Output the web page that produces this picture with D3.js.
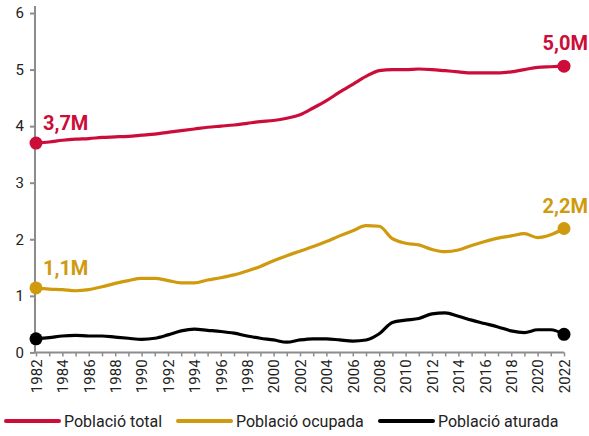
<!DOCTYPE html>
<html>
<head>
<meta charset="utf-8">
<script src="https://cdn.jsdelivr.net/npm/d3@7"></script>
<style>
  body { margin: 0; background: #fff; }
  svg { font-family: Roboto, "Noto Sans", sans-serif; }
</style>
</head>
<body>
<svg id="chart" width="589" height="436"></svg>
<script>
var years = d3.range(1982, 2023);

var total = [3.70, 3.72, 3.75, 3.77, 3.78, 3.80, 3.81, 3.82, 3.84, 3.86, 3.89, 3.92, 3.95, 3.98, 4.00, 4.02, 4.05, 4.08, 4.10, 4.14,
  4.20, 4.32, 4.45, 4.60, 4.74, 4.88, 4.98, 5.00, 5.00, 5.01, 5.00, 4.98, 4.96, 4.94, 4.94, 4.94, 4.96, 5.00, 5.04, 5.05, 5.06];

var employed = [1.14, 1.12, 1.11, 1.09, 1.11, 1.16, 1.22, 1.27, 1.31, 1.31, 1.27, 1.23, 1.23, 1.28, 1.32, 1.37, 1.44, 1.52, 1.62, 1.71,
  1.79, 1.87, 1.96, 2.06, 2.15, 2.24, 2.23, 2.01, 1.93, 1.90, 1.82, 1.78, 1.81, 1.89, 1.96, 2.02, 2.06, 2.10, 2.03, 2.08, 2.19];

var unemployed = [0.24, 0.26, 0.29, 0.30, 0.29, 0.29, 0.27, 0.25, 0.23, 0.25, 0.31, 0.38, 0.41, 0.39, 0.37, 0.34, 0.29, 0.25, 0.22, 0.18,
  0.22, 0.24, 0.24, 0.22, 0.20, 0.22, 0.33, 0.53, 0.57, 0.60, 0.68, 0.70, 0.64, 0.57, 0.51, 0.45, 0.38, 0.35, 0.40, 0.40, 0.32];

var seriesNames = ['Població total', 'Població ocupada', 'Població aturada'];
var endLabels = [['3,7M', '5,0M'], ['1,1M', '2,2M'], [null, null]];
var yTicks = [0, 1, 2, 3, 4, 5, 6];

var colors = ['#cc0d3a', '#d09a0e', '#000000'];
var allSeries = [total, employed, unemployed];

var svg = d3.select('#chart');

var x = d3.scaleLinear().domain([1982, 2022]).range([36, 564]),
    y = d3.scaleLinear().domain([0, 6]).range([352.4, 13]);

// y axis
var yAxis = svg.append('g')
  .attr('transform', 'translate(35,0)')
  .call(d3.axisLeft(y).tickValues(yTicks).tickSize(5).tickPadding(6).tickFormat(d3.format('d')));
yAxis.select('.domain').attr('stroke', '#8c8c8c').attr('stroke-width', 2).attr('d', 'M0,6V352.4');
yAxis.selectAll('.tick line').attr('stroke', '#8c8c8c').attr('stroke-width', 2);
yAxis.selectAll('.tick text').attr('font-size', 15).attr('fill', '#222').style('font-family', 'Roboto');

// x axis
var xAxis = svg.append('g')
  .attr('transform', 'translate(0,352.4)')
  .call(d3.axisBottom(x).tickValues(years).tickSize(4).tickSizeOuter(0).tickFormat(function(d) { return d % 2 === 0 ? d : ''; }));
xAxis.select('.domain').attr('stroke', '#8c8c8c').attr('stroke-width', 2).attr('d', 'M35,0H564');
xAxis.selectAll('.tick line').attr('stroke', '#8c8c8c').attr('stroke-width', 1.5);
xAxis.selectAll('.tick text')
  .attr('font-size', 15)
  .attr('fill', '#222')
  .style('font-family', 'Roboto')
  .attr('transform', 'rotate(-90)')
  .attr('text-anchor', 'end')
  .attr('x', -7)
  .attr('y', 0)
  .attr('dy', '0.35em');

var line = d3.line()
  .x(function(d, i) { return x(years[i]); })
  .y(function(d) { return y(d); })
  .curve(d3.curveMonotoneX);

var series = svg.selectAll('g.series')
  .data(allSeries)
  .enter()
  .append('g')
  .attr('class', 'series');

series.append('path')
  .attr('d', function(d) { return line(d); })
  .attr('fill', 'none')
  .attr('stroke', function(d, i) { return colors[i]; })
  .attr('stroke-width', 3.2)
  .attr('stroke-linejoin', 'round');

series.selectAll('circle')
  .data(function(d, i) {
    return [{v: d[0], yr: years[0], c: colors[i]}, {v: d[d.length - 1], yr: years[years.length - 1], c: colors[i]}];
  })
  .enter()
  .append('circle')
  .attr('cx', function(d) { return x(d.yr); })
  .attr('cy', function(d) { return y(d.v); })
  .attr('r', 6.5)
  .attr('fill', function(d) { return d.c; });

// end labels
series.each(function(d, i) {
  var g = d3.select(this);
  if (endLabels[i][0]) {
    g.append('text')
      .attr('x', x(years[0]) + 7)
      .attr('y', y(d[0]) - 13)
      .attr('font-size', 20)
      .attr('font-weight', 'bold')
      .attr('fill', colors[i])
      .text(endLabels[i][0]);
  }
  if (endLabels[i][1]) {
    g.append('text')
      .attr('x', 588)
      .attr('y', y(d[d.length - 1]) - 16)
      .attr('text-anchor', 'end')
      .attr('font-size', 20)
      .attr('font-weight', 'bold')
      .attr('fill', colors[i])
      .text(endLabels[i][1]);
  }
});

// legend
var legendX = [6, 178, 380];
var legend = svg.selectAll('g.legend')
  .data(seriesNames)
  .enter()
  .append('g')
  .attr('class', 'legend')
  .attr('transform', function(d, i) { return 'translate(' + legendX[i] + ',421)'; });

legend.append('line')
  .attr('x1', 0).attr('x2', 53)
  .attr('stroke', function(d, i) { return colors[i]; })
  .attr('stroke-width', 4)
  .attr('stroke-linecap', 'round');

legend.append('text')
  .attr('x', 58)
  .attr('dy', '0.35em')
  .attr('font-size', 16)
  .attr('fill', '#222')
  .text(function(d) { return d; });
</script>
</body>
</html>
